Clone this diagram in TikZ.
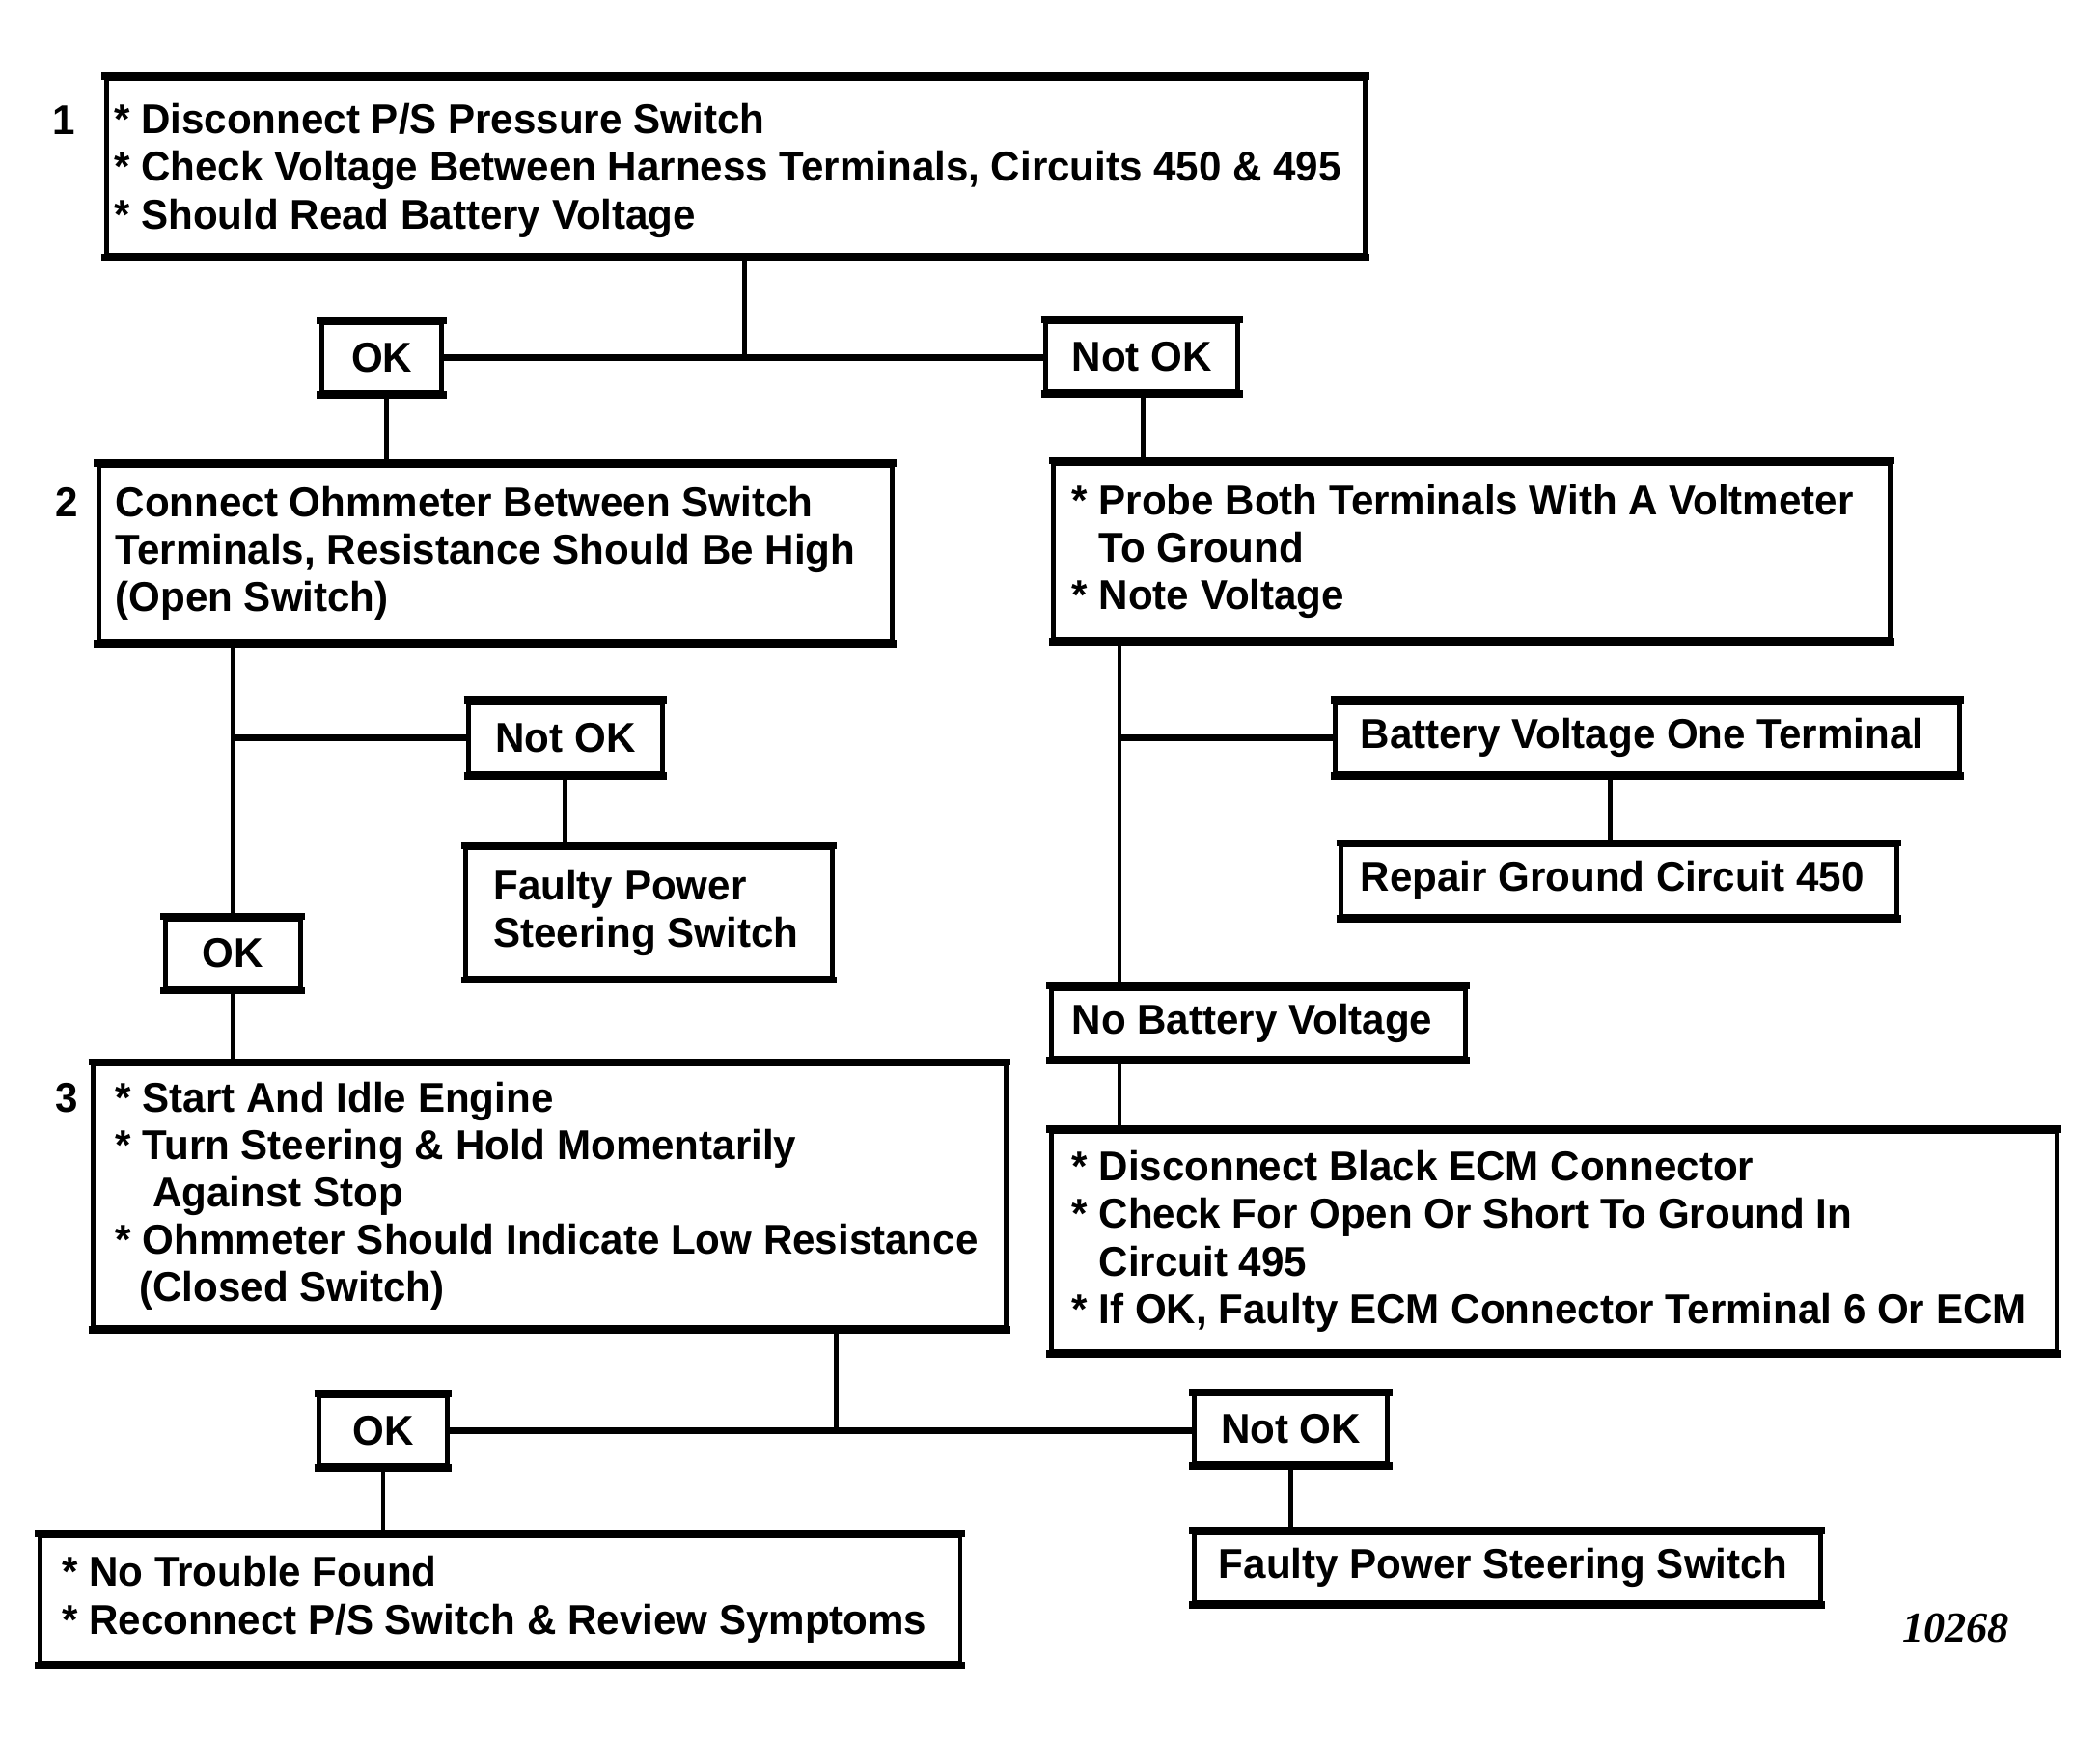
\documentclass[tikz,border=0pt]{standalone}
\usepackage{fontspec}
\setmainfont{Liberation Sans}[FakeStretch=0.975]
\newfontfamily\numfont{Liberation Serif}
\tikzset{
 lbl/.style={font=\bfseries\fontsize{15.6}{17.75}\selectfont},
 bx/.style={lbl, draw, line width=1.8pt, inner sep=0pt, anchor=north west,
   append after command={
     (\tikzlastnode.north west) edge[line width=2.8pt, shorten <=-0.9pt, shorten >=-0.9pt] (\tikzlastnode.north east)
     (\tikzlastnode.south west) edge[line width=2.8pt, shorten <=-0.9pt, shorten >=-0.9pt] (\tikzlastnode.south east)}},
 sz/.style 2 args={minimum width=#1*0.5pt, minimum height=#2*0.5pt},
 txt/.style={lbl, anchor=west, align=left, inner sep=0pt},
 num/.style={lbl, inner sep=0pt},
 conn/.style={line width=1.8pt},
 hconn/.style={line width=2.6pt},
}
\begin{document}
\begin{tikzpicture}[x=0.5pt,y=-0.5pt]
\useasboundingbox (0,0) rectangle (1572,1303);

% boxes
\node[bx, sz={942}{132}] (b1) at (78,57) {};
\node[bx, sz={90}{52}] (ok1) at (239,240) {OK};
\node[bx, sz={144}{52}] (nok1) at (781,239) {Not OK};
\node[bx, sz={594}{131}] (b2) at (72,347) {};
\node[bx, sz={626}{132}] (r1) at (787,345) {};
\node[bx, sz={145}{53}] (nok2) at (349,524) {Not OK};
\node[bx, sz={274}{97}] (f1) at (347,633) {};
\node[bx, sz={101}{52}] (ok2) at (122,686) {OK};
\node[bx, sz={683}{197}] (b3) at (68,795) {};
\node[bx, sz={467}{53}] (bvot) at (998,524) {};
\node[bx, sz={416}{53}] (rgc) at (1002,631) {};
\node[bx, sz={310}{52}] (nbv) at (785,738) {};
\node[bx, sz={753}{165}] (ecm) at (785,845) {};
\node[bx, sz={96}{52}] (ok3) at (237,1043) {OK};
\node[bx, sz={145}{52}] (nok3) at (892,1042) {Not OK};
\node[bx, sz={689}{95}] (ntf) at (28,1148) {};
\node[bx, sz={469}{52}] (fps2) at (892,1146) {};

% texts
\node[txt] (t1) at ([xshift=3.5pt,yshift=-1.5pt]b1.west) {* Disconnect P/S Pressure Switch\\* Check Voltage Between Harness Terminals, Circuits 450 \& 495\\* Should Read Battery Voltage};
\node[txt] (t2) at ([xshift=7pt]b2.west) {Connect Ohmmeter Between Switch\\Terminals, Resistance Should Be High\\(Open Switch)};
\node[txt] (tr1) at ([xshift=7.5pt]r1.west) {* Probe Both Terminals With A Voltmeter\\\phantom{* }To Ground\\* Note Voltage};
\node[txt] (tf1) at ([xshift=11pt]f1.west) {Faulty Power\\Steering Switch};
\node[txt] (t3) at ([xshift=9pt]b3.west) {* Start And Idle Engine\\* Turn Steering \& Hold Momentarily\\\hspace*{14pt}Against Stop\\* Ohmmeter Should Indicate Low Resistance\\\hspace*{9pt}(Closed Switch)};
\node[txt] (tbv) at ([xshift=10pt]bvot.west) {Battery Voltage One Terminal};
\node[txt] (trg) at ([xshift=8pt]rgc.west) {Repair Ground Circuit 450};
\node[txt] (tnb) at ([xshift=8.5pt]nbv.west) {No Battery Voltage};
\node[txt] (tecm) at ([xshift=8.5pt]ecm.west) {* Disconnect Black ECM Connector\\* Check For Open Or Short To Ground In\\\phantom{* }Circuit 495\\* If OK, Faulty ECM Connector Terminal 6 Or ECM};
\node[txt] (tntf) at ([xshift=9pt]ntf.west) {* No Trouble Found\\* Reconnect P/S Switch \& Review Symptoms};
\node[txt] (tfp2) at ([xshift=10pt]fps2.west) {Faulty Power Steering Switch};

% step numbers
\node[num] (n1) at (48,90) {1};
\node[num] (n2) at (50,376) {2};
\node[num] (n3) at (50,822) {3};
\node[font=\numfont\bfseries\itshape\fontsize{16}{19}\selectfont, inner sep=0pt] (code) at (1464,1219) {10268};

% connectors
\coordinate (x1) at (557,0);
\coordinate (xo1) at (289,0);
\coordinate (xn1) at (856,0);
\draw[conn] (b1.south -| x1) -- (ok1.east -| x1);
\draw[hconn] (ok1.east) -- (ok1.east -| nok1.west);
\draw[conn] (ok1.south -| xo1) -- (b2.north -| xo1);
\draw[conn] (nok1.south -| xn1) -- (r1.north -| xn1);
\draw[conn] (b2.south -| ok2.north) -- (ok2.north);
\draw[hconn] (nok2.west) -- (nok2.west -| ok2.north);
\draw[conn] (nok2.south) -- (nok2.south |- f1.north);
\draw[conn] (ok2.south) -- (ok2.south |- b3.north);
\coordinate (xr) at (838,0);
\draw[conn] (r1.south -| xr) -- (nbv.north -| xr);
\draw[hconn] (bvot.west) -- (bvot.west -| xr);
\coordinate (xb) at (1205,0);
\draw[conn] (bvot.south -| xb) -- (rgc.north -| xb);
\draw[conn] (nbv.south -| xr) -- (ecm.north -| xr);
\coordinate (x3) at (626,0);
\draw[conn] (b3.south -| x3) -- (ok3.east -| x3);
\draw[hconn] (ok3.east) -- (ok3.east -| nok3.west);
\draw[conn] (ok3.south) -- (ok3.south |- ntf.north);
\draw[conn] (nok3.south) -- (nok3.south |- fps2.north);
\end{tikzpicture}
\end{document}
